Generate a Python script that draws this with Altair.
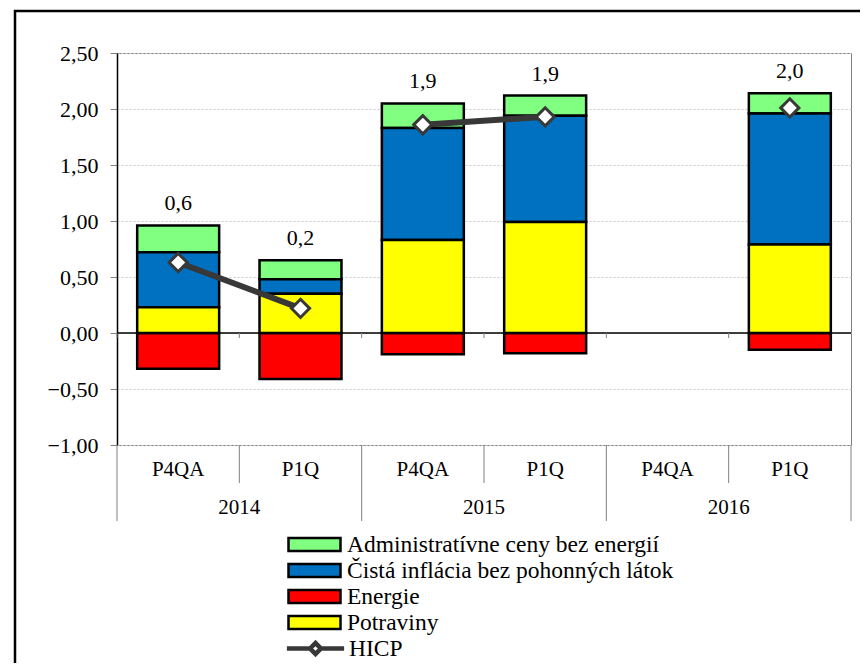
import altair as alt
import pandas as pd

# ---- data -------------------------------------------------------------
years = ["2014", "2014", "2015", "2015", "2016"]
periods = ["P4QA", "P1Q", "P4QA", "P1Q", "P1Q"]

potraviny = [0.23, 0.35, 0.83, 0.99, 0.79]
cista = [0.49, 0.13, 1.00, 0.95, 1.17]
admin = [0.24, 0.17, 0.22, 0.18, 0.18]
energie = [-0.32, -0.41, -0.19, -0.18, -0.15]
hicp = [0.63, 0.22, 1.86, 1.93, 2.01]

all_years = ["2014", "2015", "2016"]
all_periods = ["P4QA", "P1Q"]

names = [
    "Administratívne ceny bez energií",
    "Čistá inflácia bez pohonných látok",
    "Energie",
    "Potraviny",
]
colors = ["#80FF80", "#0070C0", "#FF0000", "#FFFF00"]
stack_order = {"Potraviny": 0, "Čistá inflácia bez pohonných látok": 1,
               "Administratívne ceny bez energií": 2, "Energie": 3}

y_ticks = [-1.0, -0.5, 0.0, 0.5, 1.0, 1.5, 2.0, 2.5]

# ---- tables ------------------------------------------------------------
cats = [f"{y}|{p}" for y in all_years for p in all_periods]
keys = [f"{y}|{p}" for y, p in zip(years, periods)]

series = {
    names[0]: admin,
    names[1]: cista,
    names[2]: energie,
    names[3]: potraviny,
}
long_rows = []
for name, vals in series.items():
    for k, v in zip(keys, vals):
        long_rows.append({"key": k, "component": name, "value": v,
                          "ord": stack_order[name]})
long_df = pd.DataFrame(long_rows)

wide_df = pd.DataFrame({
    "key": keys, "year": years, "pot": potraviny, "cis": cista,
    "adm": admin, "hicp": hicp, "series": ["HICP"] * len(keys),
})

year_df = pd.DataFrame({"year": all_years,
                        "start": [f"{y}|P4QA" for y in all_years],
                        "mid": [f"{y}|P1Q" for y in all_years]})
end_df = pd.DataFrame({"key": [cats[-1]]})

# ---- styling -----------------------------------------------------------
FONT = "Liberation Serif"
GRAY = "#808080"
LINE = "#383838"
RECT_PATH = "M-2,-0.5L2,-0.5L2,0.5L-2,0.5Z"
HICP_PATH = "M-2.2,0L-0.42,0M0.42,0L2.2,0M-0.42,0L0,-0.42L0.42,0L0,0.42Z"

x_scale = alt.Scale(domain=cats, paddingInner=0, paddingOuter=0)
y_scale = alt.Scale(domain=[-1, 2.5], nice=False, zero=False)

x_axis = alt.Axis(
    title=None, labelExpr="split(datum.label, '|')[1]", labelAngle=0,
    labelAlign="center", bandPosition=0.5,
    labelFont=FONT, labelFontSize=21, labelColor="black",
    labelBaseline="middle", labelPadding=24, ticks=False, tickSize=0,
    domain=False, grid=False,
)
y_axis = alt.Axis(
    title=None, values=y_ticks,
    labelExpr="replace(format(datum.value, '.2f'), '.', ',')",
    labelFont=FONT, labelFontSize=22, labelColor="black", labelPadding=12,
    grid=True, gridColor="#c8c8c8", gridDash=[2, 2], gridWidth=1,
    domainColor="black", domainWidth=1.5, tickColor=GRAY, tickSize=7,
)


def xk(field, band=None):
    if band is None:
        return alt.X(f"{field}:N", scale=x_scale, axis=x_axis)
    return alt.X(f"{field}:N", scale=x_scale, axis=x_axis, bandPosition=band)


def yq(field, **kw):
    return alt.Y(f"{field}:Q", scale=y_scale, axis=y_axis, **kw)


# ---- layers ------------------------------------------------------------
zero_line = alt.Chart(pd.DataFrame({"z": [0]})).mark_rule(
    color="black", strokeWidth=1.5
).encode(y=yq("z"))

bars = alt.Chart(long_df).mark_bar(
    width=alt.RelativeBandSize(0.67), stroke="black", strokeWidth=2.5
).encode(
    x=xk("key"),
    y=yq("value", stack="zero"),
    color=alt.Color(
        "component:N",
        scale=alt.Scale(domain=names, range=colors),
        legend=alt.Legend(
            title=None, orient="none", legendX=183, legendY=477,
            direction="vertical", symbolType=RECT_PATH, symbolSize=676,
            symbolStrokeColor="black", symbolStrokeWidth=2.5,
            labelFont=FONT, labelFontSize=23.5, labelColor="black",
            labelOffset=18, labelLimit=600, rowPadding=0, padding=0,
        ),
    ),
    order=alt.Order("ord:Q", sort="ascending"),
)

# small ticks on the zero line at category boundaries
zero_ticks = alt.Chart(
    pd.DataFrame({"key": cats, "z0": 0.0, "z1": -0.045})
).mark_rule(color=GRAY, strokeWidth=1).encode(
    x=xk("key", 0), y=yq("z0"), y2="z1:Q",
)

# separators below the plot: short within a year, long between years
minor_sep = alt.Chart(year_df).mark_rule(color=GRAY, strokeWidth=1).encode(
    x=xk("mid", 0), y=alt.value(392), y2=alt.value(430),
)
major_sep = alt.Chart(year_df).mark_rule(color=GRAY, strokeWidth=1).encode(
    x=xk("start", 0), y=alt.value(392), y2=alt.value(468),
)
end_sep = alt.Chart(end_df).mark_rule(color=GRAY, strokeWidth=1).encode(
    x=xk("key", 1), y=alt.value(392), y2=alt.value(468),
)
year_labels = alt.Chart(year_df).mark_text(
    font=FONT, fontSize=21, color="black", baseline="middle"
).encode(
    x=xk("mid", 0), y=alt.value(455), text="year:N",
)

hicp_line = alt.Chart(wide_df).mark_line(
    color=LINE, strokeWidth=6
).encode(
    x=xk("key"), y=yq("hicp"), detail="year:N",
)
hicp_points = alt.Chart(wide_df).mark_point(
    shape="diamond", filled=True, fill="white",
    strokeWidth=3, size=330, opacity=1,
).encode(
    x=xk("key"),
    y=yq("hicp"),
    stroke=alt.Stroke(
        "series:N",
        scale=alt.Scale(domain=["HICP"], range=[LINE]),
        legend=alt.Legend(
            title=None, orient="none", legendX=183, legendY=580,
            symbolType=HICP_PATH, symbolSize=676, symbolFillColor="white",
            symbolStrokeColor=LINE, symbolStrokeWidth=4.5, symbolOpacity=1,
            labelFont=FONT, labelFontSize=23.5, labelColor="black",
            labelOffset=18, labelLimit=600, padding=0,
        ),
    ),
)

value_labels = alt.Chart(wide_df).transform_calculate(
    top="datum.pot + datum.cis + datum.adm",
    label="replace(format(datum.hicp, '.1f'), '.', ',')",
).mark_text(
    font=FONT, fontSize=22, color="black", baseline="middle", dy=-22
).encode(
    x=xk("key"), y=yq("top"), text="label:N",
)

frame = alt.Chart(pd.DataFrame({"f": [0]})).mark_rect(
    fillOpacity=0, stroke="black", strokeWidth=2.5
).encode(
    x=alt.value(-102), x2=alt.value(770), y=alt.value(-42), y2=alt.value(700)
)

chart = alt.layer(
    zero_line, zero_ticks, bars, minor_sep, major_sep, end_sep, year_labels,
    hicp_line, hicp_points, value_labels, frame,
).properties(
    width=734, height=392,
    padding={"left": 117, "top": 53, "right": 9, "bottom": 218},
    autosize=alt.AutoSizeParams(type="none"),
).configure(
    font=FONT, style={"guide-label": {"font": FONT}}
).configure_view(
    stroke=GRAY, strokeWidth=1
).configure_axis(
    labelFont=FONT, labelColor="black"
).configure_axisY(
    labelFont=FONT, labelFontSize=22
).configure_axisLeft(
    labelFont=FONT, labelFontSize=22
)

chart.save("out.html", embed_options={"renderer": "svg", "actions": False})
